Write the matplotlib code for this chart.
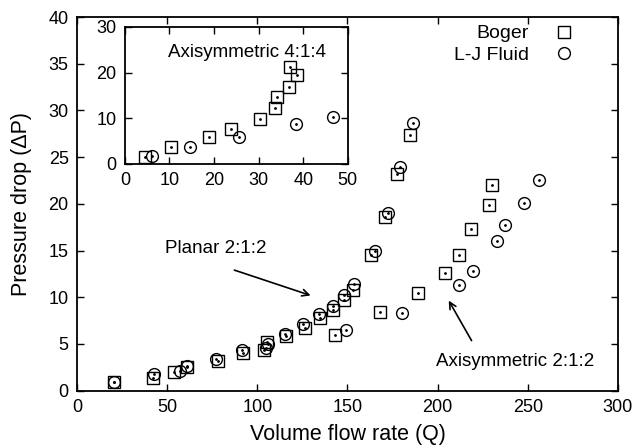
import matplotlib
matplotlib.use("Agg")
import matplotlib.pyplot as plt

plt.rcParams["font.family"] = ["Liberation Sans", "DejaVu Sans"]

# planar 2:1:2 (main plot, left branch)
planar_boger_q = [20.5, 42, 54, 61, 78, 92, 103.5, 105.5, 116, 126.5, 134.7, 141.7, 148, 152.8, 163.2, 170.7, 177.5, 184.6]
planar_boger_dp = [0.9, 1.4, 2.0, 2.5, 3.2, 4.0, 4.3, 5.2, 5.8, 6.7, 7.8, 8.6, 9.7, 10.8, 14.5, 18.6, 23.2, 27.4]
planar_lj_q = [20.5, 42.4, 57.2, 61, 77, 91.4, 105, 105.8, 115.3, 125.1, 134.4, 141.7, 148, 153.6, 165, 172.5, 179.4, 186.4]
planar_lj_dp = [0.9, 1.8, 2.1, 2.6, 3.4, 4.3, 4.6, 5.0, 6.1, 7.1, 8.2, 9.1, 10.2, 11.4, 14.9, 19.0, 23.9, 28.7]

# axisymmetric 2:1:2 (main plot, right branch)
axi_boger_q = [143, 168.3, 189.2, 204, 211.8, 218.7, 228.5, 230.1]
axi_boger_dp = [6.0, 8.4, 10.5, 12.6, 14.5, 17.3, 19.9, 22.0]
axi_lj_q = [149.1, 180.5, 211.7, 219.6, 232.8, 237.2, 247.8, 256.5]
axi_lj_dp = [6.5, 8.3, 11.3, 12.8, 16.0, 17.7, 20.1, 22.5]

# axisymmetric 4:1:4 (inset)
in_boger_q = [4.6, 10.4, 18.9, 23.7, 30.4, 33.7, 34.1, 36.9, 37.0, 38.7]
in_boger_dp = [1.5, 3.7, 5.9, 7.7, 9.8, 12.2, 14.6, 16.9, 21.2, 19.4]
in_lj_q = [6.1, 14.6, 25.6, 38.4, 46.7]
in_lj_dp = [1.7, 3.7, 6.0, 8.7, 10.2]

FS = 13
MS = 8.5

fig = plt.figure(figsize=(6.37, 4.48), dpi=100)
ax = fig.add_axes([0.121, 0.128, 0.849, 0.834])


def pts(a, q, dp, m, label=None):
    a.plot(q, dp, ls="none", marker=m, ms=MS, mfc="none", mec="black", mew=1.0,
           label=label, zorder=3)
    a.plot(q, dp, ls="none", marker="o", ms=1.0, color="black", zorder=4)


def style(a):
    a.tick_params(direction="in", top=True, right=True, length=5, width=1.0,
                  labelsize=FS, pad=6)
    for s in a.spines.values():
        s.set_linewidth(1.3)


pts(ax, planar_boger_q + axi_boger_q, planar_boger_dp + axi_boger_dp, "s", "Boger")
pts(ax, planar_lj_q + axi_lj_q, planar_lj_dp + axi_lj_dp, "o", "L-J Fluid")
ax.set_xlim(0, 300)
ax.set_ylim(0, 40)
ax.set_xticks(range(0, 301, 50))
ax.set_yticks(range(0, 41, 5))
style(ax)
ax.set_xlabel("Volume flow rate (Q)", fontsize=15.5, labelpad=6)
ax.set_ylabel("Pressure drop (ΔP)", fontsize=15.5, labelpad=12)

h, l = ax.get_legend_handles_labels()
ax.legend([h[0], h[1]], l, loc="upper right", frameon=False, markerfirst=False,
          fontsize=14, handletextpad=1.2, labelspacing=0.2, borderaxespad=0.1,
          handlelength=1.2, bbox_to_anchor=(0.94, 1.005))

arrow = dict(arrowstyle="->", color="black", lw=1.2, mutation_scale=12)
ax.text(77, 15.2, "Planar 2:1:2", fontsize=13.5, ha="center", va="center")
ax.annotate("", xy=(131, 10.1), xytext=(85.8, 13.0), arrowprops=arrow)
ax.text(243, 3.1, "Axisymmetric 2:1:2", fontsize=13.5, ha="center", va="center")
ax.annotate("", xy=(205.4, 9.9), xytext=(219.6, 5.1), arrowprops=arrow)

ins = fig.add_axes([0.196, 0.634, 0.35, 0.306])
pts(ins, in_boger_q, in_boger_dp, "s")
pts(ins, in_lj_q, in_lj_dp, "o")
ins.set_xlim(0, 50)
ins.set_ylim(0, 30)
ins.set_xticks(range(0, 51, 10))
ins.set_yticks(range(0, 31, 10))
style(ins)
ins.text(27.3, 24.5, "Axisymmetric 4:1:4", fontsize=13.5, ha="center", va="center")

fig.savefig("out.png", dpi=100, facecolor="white")
